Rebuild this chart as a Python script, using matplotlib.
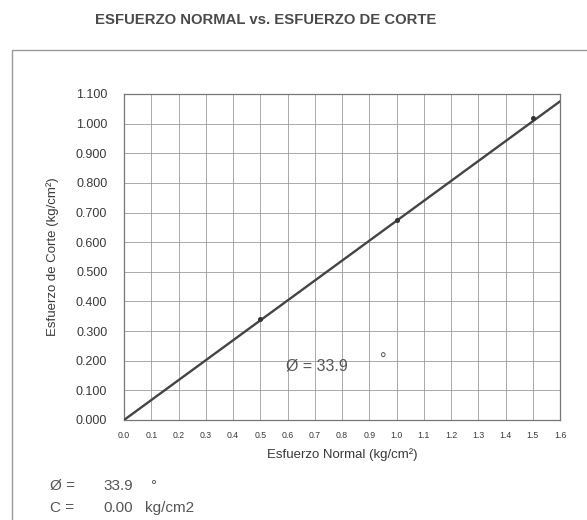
import matplotlib

matplotlib.use("Agg")
import matplotlib.pyplot as plt
import matplotlib.ticker as mticker
from matplotlib.patches import Rectangle
import numpy as np

# Ensayo de corte directo: esfuerzo normal vs esfuerzo de corte
normal_stress = [0.5, 1.0, 1.5]
shear_stress = [0.341, 0.675, 1.019]
phi_deg = 33.9
cohesion = 0.00
x_fit = [0.0, 1.6]

x_ticks = np.round(np.arange(0.0, 1.61, 0.1), 1)
y_ticks = np.round(np.arange(0.0, 1.101, 0.1), 1)

_W, _H, _DPI = 5.87, 5.20, 100
_INK = "#3a3a3a"
_SOFT = "#555555"
_GRID = "#9a9a9a"

plt.rcParams.update({
    "font.family": "Liberation Sans",
    "axes.linewidth": 0.9,
    "axes.edgecolor": "#777777",
})

fig = plt.figure(figsize=(_W, _H), dpi=_DPI)
fig.patch.set_facecolor("white")

# outer frame of the worksheet
fig.patches.append(Rectangle((12 / 587, -0.01), 1.0, 1 - 50 / 520 + 0.01,
                             transform=fig.transFigure, fill=False,
                             edgecolor="#9a9a9a", linewidth=1.0))

fig.text(266 / 587, 1 - 20 / 520, "ESFUERZO NORMAL vs. ESFUERZO DE CORTE",
         ha="center", va="center", fontsize=10.7, fontweight="bold", color="#4a4a4a")

ax = fig.add_axes([124 / 587, 1 - 420 / 520, (560 - 124) / 587, (420 - 94) / 520])

y_fit = [x * np.tan(np.radians(phi_deg)) + cohesion for x in x_fit]
ax.plot(x_fit, y_fit, color="#444444", linewidth=1.7, zorder=3)
ax.plot(normal_stress, shear_stress, "o", color="#333333", markersize=2.6, zorder=4)

ax.set_xlim(0.0, 1.6)
ax.set_ylim(0.0, 1.1)
ax.set_xticks(x_ticks)
ax.set_yticks(y_ticks)
ax.xaxis.set_major_formatter(mticker.FormatStrFormatter("%.1f"))
ax.yaxis.set_major_formatter(mticker.FormatStrFormatter("%.3f"))
ax.tick_params(axis="x", labelsize=6.3, colors=_INK, length=0, pad=8)
ax.tick_params(axis="y", labelsize=9, colors=_INK, length=0, pad=12)
ax.grid(True, color=_GRID, linewidth=0.7, alpha=0.85)
ax.set_axisbelow(True)

ax.set_xlabel("Esfuerzo Normal (kg/cm²)", fontsize=9.5, color=_INK, labelpad=6)
ax.set_ylabel("Esfuerzo de Corte (kg/cm²)", fontsize=9.5, color=_INK, labelpad=12)

ax.text(0.595, 0.182, f"Ø = {phi_deg}", fontsize=11.5, color=_SOFT,
        ha="left", va="center")
ax.text(0.95, 0.2, "°", fontsize=11.5, color=_SOFT, ha="center", va="center")

fig.text(50 / 587, 1 - 486 / 520, "Ø =", fontsize=11, color=_SOFT, va="center")
fig.text(103 / 587, 1 - 486 / 520, f"{phi_deg}", fontsize=11, color=_SOFT, va="center")
fig.text(150 / 587, 1 - 486 / 520, "°", fontsize=11, color=_SOFT, va="center")
fig.text(50 / 587, 1 - 508 / 520, "C =", fontsize=11, color=_SOFT, va="center")
fig.text(103 / 587, 1 - 508 / 520, f"{cohesion:.2f}", fontsize=11, color=_SOFT, va="center")
fig.text(145 / 587, 1 - 508 / 520, "kg/cm2", fontsize=11, color=_SOFT, va="center")

fig.savefig("out.png", dpi=_DPI)
plt.close(fig)
